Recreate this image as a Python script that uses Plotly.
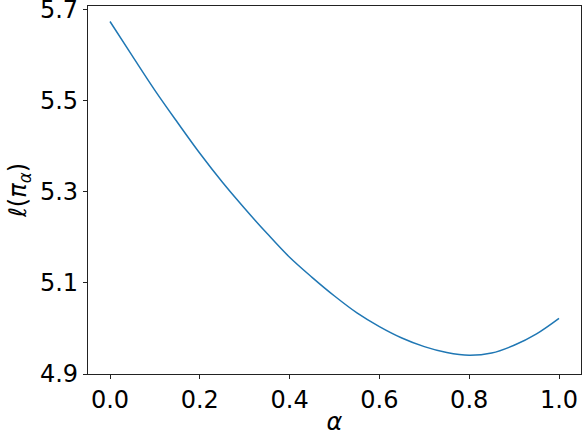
import plotly.graph_objects as go

alpha = [0.00, 0.05, 0.10, 0.15, 0.20, 0.25, 0.30, 0.35, 0.40, 0.45, 0.50,
         0.55, 0.60, 0.65, 0.70, 0.75, 0.80, 0.85, 0.90, 0.95, 1.00]
loss = [5.673, 5.597, 5.522, 5.452, 5.384, 5.321, 5.263, 5.208, 5.156, 5.112, 5.071,
        5.034, 5.004, 4.979, 4.960, 4.947, 4.941, 4.946, 4.963, 4.988, 5.022]

x_ticks = [0.0, 0.2, 0.4, 0.6, 0.8, 1.0]
y_ticks = [4.9, 5.1, 5.3, 5.5, 5.7]

fig = go.Figure()
fig.add_trace(go.Scatter(x=alpha, y=loss, mode="lines", line=dict(color="#1f77b4", width=1.5, shape="spline")))

font = "DejaVu Sans"
fig.update_layout(
    width=582, height=436,
    margin=dict(l=88, r=1, t=6, b=62),
    plot_bgcolor="white", paper_bgcolor="white",
    showlegend=False,
    font=dict(family=font, size=24, color="black"),
)
fig.update_xaxes(
    range=[-0.049, 1.049], tickvals=x_ticks, tickformat=".1f",
    showline=True, linecolor="#222", linewidth=1.2, mirror=True,
    ticks="outside", ticklen=4, tickcolor="#222", showgrid=False, zeroline=False,
    automargin=False, ticklabeloverflow="allow",
    tickfont=dict(size=24),
    title=dict(text="<i>α</i>", standoff=2, font=dict(size=24)),
)
fig.update_yaxes(
    range=[4.9, 5.707], tickvals=y_ticks, tickformat=".1f",
    showline=True, linecolor="#222", linewidth=1.2, mirror=True,
    ticks="outside", ticklen=4, tickcolor="#222", showgrid=False, zeroline=False,
    automargin=False, ticklabeloverflow="allow",
    tickfont=dict(size=24),
    title=dict(text="<i>ℓ</i>(<i>π<sub>α</sub></i>)", standoff=6, font=dict(size=24)),
)
fig.write_html("out.html", config={"displayModeBar": False},
               post_script="document.body.style.margin='0';document.body.style.overflow='hidden';")
